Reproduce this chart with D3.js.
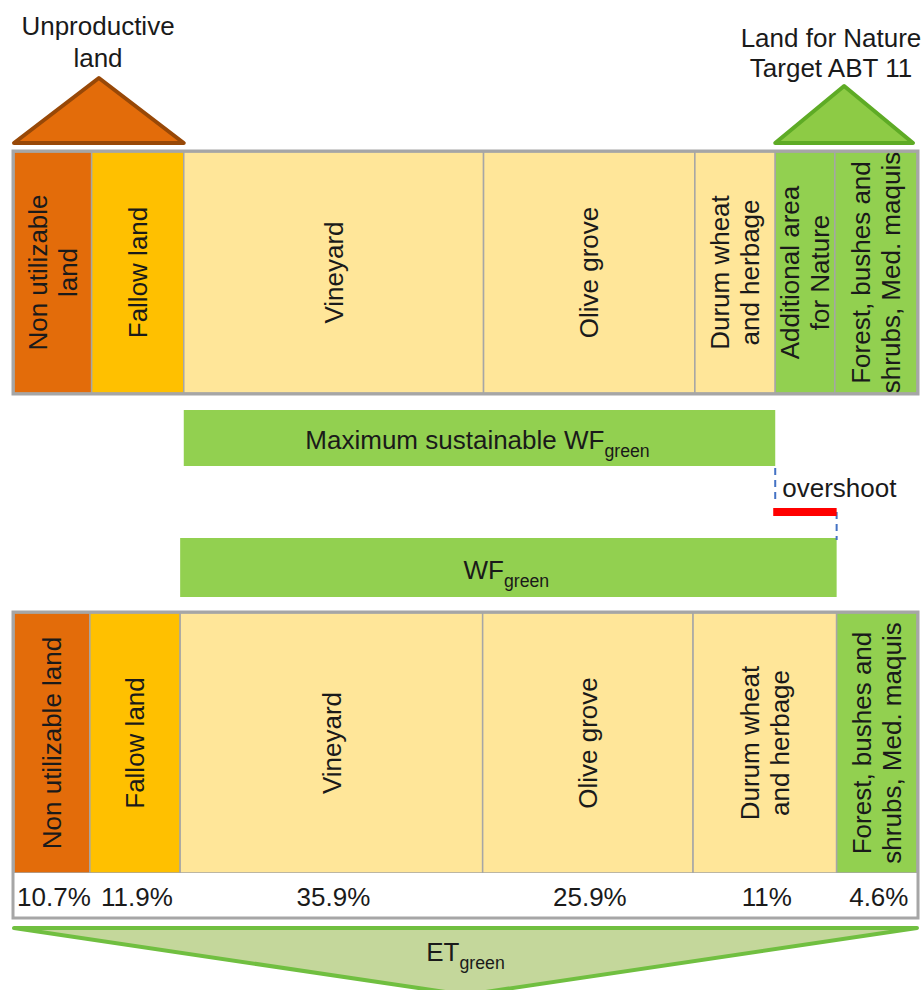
<!DOCTYPE html>
<html>
<head>
<meta charset="utf-8">
<script src="https://cdn.jsdelivr.net/npm/d3@7"></script>
<style>
  body { margin: 0; background: #fff; }
  text { font-family: "Liberation Sans", Arial, sans-serif; fill: #1a1a1a; }
</style>
</head>
<body>
<script>
// land use before (top) and after WF accounting (bottom), widths
const topLabels = [["Non utilizable", "land"], ["Fallow land"], ["Vineyard"], ["Olive grove"],
    ["Durum wheat", "and herbage"], ["Additional area", "for Nature"], ["Forest, bushes and", "shrubs, Med. maquis"]]
const topGroups = ["nonutil", "fallow", "crop", "crop", "crop", "nature", "nature"]
const topWidths = [8.6, 10.2, 33.2, 23.4, 8.9, 6.6, 9.1]

const bottomLabels = [["Non utilizable land"], ["Fallow land"], ["Vineyard"], ["Olive grove"],
    ["Durum wheat", "and herbage"], ["Forest, bushes and", "shrubs, Med. maquis"]]
const bottomGroups = ["nonutil", "fallow", "crop", "crop", "crop", "nature"]
const bottomWidths = [8.4, 10.0, 33.5, 23.3, 15.9, 8.9]
const bottomShares = [10.7, 11.9, 35.9, 25.9, 11, 4.6]

let width = 923
let height = 990

let x = d3.scaleLinear().domain([0, 100]).range([14, 917])
let color = d3.scaleOrdinal()
    .domain(["nonutil", "fallow", "crop", "nature"])
    .range(["#e36c0a", "#ffc000", "#ffe699", "#92d050"])

// turn widths into [start, end] spans
function spans(widths) {
    let acc = 0
    return widths.map(w => { let s = acc; acc += w; return [s, acc] })
}

let svg = d3.select("body").append("svg")
    .attr("width", width)
    .attr("height", height)

drawChart()

function drawStrip(labels, groups, widths, y0, y1) {
    let sp = spans(widths)
    let g = svg.append("g")
    g.selectAll("rect")
        .data(sp).enter()
        .append("rect")
        .attr("x", d => x(d[0]))
        .attr("y", y0)
        .attr("width", d => x(d[1]) - x(d[0]))
        .attr("height", y1 - y0)
        .style("fill", (d, i) => color(groups[i]))
        .style("stroke", "#a6a6a6")
        .style("stroke-width", 1.5)
    let lab = g.selectAll("g.lab")
        .data(sp).enter()
        .append("g")
        .attr("class", "lab")
        .attr("transform", d => `translate(${(x(d[0]) + x(d[1])) / 2},${(y0 + y1) / 2}) rotate(-90)`)
    lab.each(function (d, i) {
        let lines = labels[i]
        let t = d3.select(this).append("text")
            .attr("text-anchor", "middle")
            .style("font-size", "26px")
        lines.forEach((l, j) => {
            t.append("tspan")
                .attr("x", 0)
                .attr("y", (j - (lines.length - 1) / 2) * 30)
                .attr("dy", "0.35em")
                .text(l)
        })
    })
    return sp
}

function subText(txt, sub, cx, y, size) {
    let t = svg.append("text")
        .attr("x", cx)
        .attr("y", y)
        .attr("text-anchor", "middle")
        .style("font-size", size + "px")
    t.append("tspan").text(txt)
    t.append("tspan").attr("dy", 8).style("font-size", (size * 0.68) + "px").text(sub)
}

function drawChart() {
    let tri = d3.line()

    // top strip
    let topSp = drawStrip(topLabels, topGroups, topWidths, 152, 393)
    svg.append("rect")
        .attr("x", x(0) - 1).attr("y", 151)
        .attr("width", x(100) - x(0) + 2).attr("height", 243)
        .style("fill", "none").style("stroke", "#a6a6a6").style("stroke-width", 3)

    // triangles above
    let unprod = [x(topSp[0][0]), x(topSp[1][1])]
    svg.append("path")
        .attr("d", tri([[unprod[0], 143], [(unprod[0] + unprod[1]) / 2, 78], [unprod[1], 143]]) + "Z")
        .style("fill", "#e36c0a").style("stroke", "#984807").style("stroke-width", 4)
        .style("stroke-linejoin", "round")
    let nat = [x(topSp[5][0]), x(topSp[6][1]) - 4]
    svg.append("path")
        .attr("d", tri([[nat[0], 143], [(nat[0] + nat[1]) / 2, 86], [nat[1], 143]]) + "Z")
        .style("fill", "#8dcb45").style("stroke", "#5eab25").style("stroke-width", 4)
        .style("stroke-linejoin", "round")
    svg.append("text").attr("x", 98).attr("y", 35).attr("text-anchor", "middle")
        .style("font-size", "26px").text("Unproductive")
    svg.append("text").attr("x", 98).attr("y", 67).attr("text-anchor", "middle")
        .style("font-size", "26px").text("land")
    svg.append("text").attr("x", 831).attr("y", 47).attr("text-anchor", "middle")
        .style("font-size", "26px").text("Land for Nature")
    svg.append("text").attr("x", 831).attr("y", 77).attr("text-anchor", "middle")
        .style("font-size", "26px").text("Target ABT 11")

    // bottom strip
    let botSp = drawStrip(bottomLabels, bottomGroups, bottomWidths, 613, 873)
    svg.append("rect")
        .attr("x", x(0)).attr("y", 873)
        .attr("width", x(100) - x(0)).attr("height", 45)
        .style("fill", "#fff")
    svg.append("rect")
        .attr("x", x(0) - 1).attr("y", 612)
        .attr("width", x(100) - x(0) + 2).attr("height", 306)
        .style("fill", "none").style("stroke", "#a6a6a6").style("stroke-width", 3)
    svg.selectAll("text.pct")
        .data(bottomShares).enter()
        .append("text")
        .attr("class", "pct")
        .attr("x", (d, i) => (x(botSp[i][0]) + x(botSp[i][1])) / 2 + 2)
        .attr("y", 906)
        .attr("text-anchor", "middle")
        .style("font-size", "26px")
        .text(d => d + "%")

    // WF bars
    let maxWF = [topSp[2][0], topSp[5][0]]
    let wf = [botSp[2][0], botSp[5][0]]
    svg.append("rect")
        .attr("x", x(maxWF[0])).attr("y", 410)
        .attr("width", x(maxWF[1]) - x(maxWF[0])).attr("height", 56)
        .style("fill", "#92d050")
    subText("Maximum sustainable WF", "green", (x(maxWF[0]) + x(maxWF[1])) / 2 - 2, 449, 26)
    svg.append("rect")
        .attr("x", x(wf[0])).attr("y", 538)
        .attr("width", x(wf[1]) - x(wf[0])).attr("height", 59)
        .style("fill", "#92d050")
    subText("WF", "green", (x(wf[0]) + x(wf[1])) / 2 - 2, 579, 26)

    // overshoot
    svg.append("line")
        .attr("x1", x(maxWF[1])).attr("x2", x(maxWF[1]))
        .attr("y1", 468).attr("y2", 504)
        .style("stroke", "#4472c4").style("stroke-width", 2).style("stroke-dasharray", "7,5")
    svg.append("line")
        .attr("x1", x(wf[1])).attr("x2", x(wf[1]))
        .attr("y1", 512).attr("y2", 540)
        .style("stroke", "#4472c4").style("stroke-width", 2).style("stroke-dasharray", "7,5")
    svg.append("rect")
        .attr("x", x(maxWF[1]) - 2).attr("y", 508)
        .attr("width", x(wf[1]) - x(maxWF[1]) + 2).attr("height", 8)
        .style("fill", "#ff0000")
    svg.append("text").attr("x", x(maxWF[1]) + 7).attr("y", 497)
        .style("font-size", "26px").text("overshoot")

    // ET green triangle
    svg.append("path")
        .attr("d", tri([[x(0), 928], [x(100), 928], [(x(0) + x(100)) / 2, 995]]) + "Z")
        .style("fill", "#c4d79b").style("stroke", "#70bf40").style("stroke-width", 4)
        .style("stroke-linejoin", "round")
    subText("ET", "green", (x(0) + x(100)) / 2, 961, 26)
}
</script>
</body>
</html>
